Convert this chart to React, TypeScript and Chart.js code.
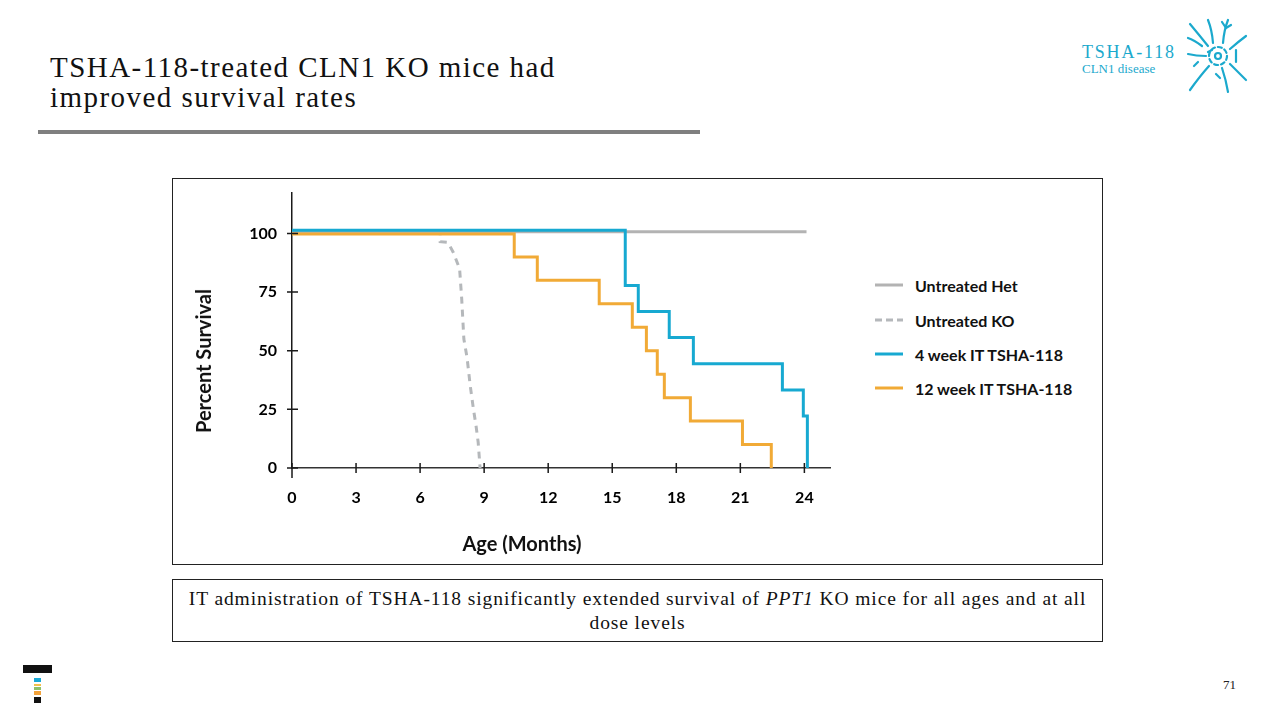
import React, { useEffect, useRef } from "react";
import { Chart, registerables } from "chart.js";

Chart.register(...registerables);

// ---- data ----
const xTickValues = [0, 3, 6, 9, 12, 15, 18, 21, 24];
const yTickValues = [0, 25, 50, 75, 100];

const hetMonths = [0, 24.1];
const hetSurvival = [100.7, 100.7];

const koMonths = [0, 6.94, 6.94, 7.3, 7.55, 7.85, 7.95, 8.05, 8.2, 8.35, 8.5, 8.62, 8.72, 8.81];
const koSurvival = [100, 100, 96.5, 96.2, 92, 85, 72, 55, 47, 35, 25, 18, 11, 0];

const wk4Months = [0, 15.61, 16.22, 17.67, 18.8, 22.97, 23.95, 24.14];
const wk4Survival = [101.3, 77.8, 66.7, 55.6, 44.4, 33.3, 22.2, 0];

const wk12Months = [0, 10.41, 11.49, 14.39, 15.94, 16.6, 17.11, 17.44, 18.66, 21.1, 22.45];
const wk12Survival = [99.7, 90, 80, 70, 60, 50, 40, 30, 20, 10, 0];

const seriesNames = ["Untreated Het", "Untreated KO", "4 week IT TSHA-118", "12 week IT TSHA-118"];
const seriesColors = ["#b3b3b3", "#b5b8bb", "#17a9d1", "#f1aa36"];

const pts = (xs: number[], ys: number[]) => xs.map((x, i) => ({ x, y: ys[i] }));

const SANS = "Lato, 'Noto Sans', sans-serif";
const SERIF = "'Liberation Serif', 'DejaVu Serif', serif";

const crossTicks = {
  id: "crossTicks",
  afterDraw(chart: any) {
    const { ctx, chartArea, scales } = chart;
    const xs = scales.x;
    const ys = scales.y;
    ctx.save();
    ctx.strokeStyle = "#1a1a1a";
    ctx.lineWidth = 1.5;
    ctx.beginPath();
    xTickValues.forEach((v) => {
      const px = xs.getPixelForValue(v);
      ctx.moveTo(px, chartArea.bottom - 5);
      ctx.lineTo(px, chartArea.bottom + 5);
    });
    yTickValues.forEach((v) => {
      const py = ys.getPixelForValue(v);
      ctx.moveTo(chartArea.left - 5, py);
      ctx.lineTo(chartArea.left + 6, py);
    });
    ctx.moveTo(chartArea.left, chartArea.bottom);
    ctx.lineTo(chartArea.left, chartArea.bottom + 10);
    ctx.stroke();
    ctx.restore();
  },
};

function SurvivalChart() {
  const ref = useRef<HTMLCanvasElement>(null);
  useEffect(() => {
    if (!ref.current) return;
    const chart = new Chart(ref.current, {
      type: "line",
      data: {
        datasets: [
          {
            label: seriesNames[2],
            data: pts(wk4Months, wk4Survival),
            borderColor: seriesColors[2],
            borderWidth: 3,
            stepped: "before",
            pointRadius: 0,
          },
          {
            label: seriesNames[3],
            data: pts(wk12Months, wk12Survival),
            borderColor: seriesColors[3],
            borderWidth: 3,
            stepped: "before",
            pointRadius: 0,
          },
          {
            label: seriesNames[0],
            data: pts(hetMonths, hetSurvival),
            borderColor: seriesColors[0],
            borderWidth: 3,
            pointRadius: 0,
          },
          {
            label: seriesNames[1],
            data: pts(koMonths, koSurvival),
            borderColor: seriesColors[1],
            borderWidth: 3,
            borderDash: [7, 6],
            pointRadius: 0,
          },
        ],
      },
      options: {
        animation: false,
        responsive: false,
        layout: { padding: { left: 0, right: 32, top: 2, bottom: 0 } },
        plugins: { legend: { display: false }, tooltip: { enabled: false } },
        scales: {
          x: {
            type: "linear",
            min: 0,
            max: 25.2,
            afterBuildTicks: (s: any) => {
              s.ticks = xTickValues.map((v) => ({ value: v }));
            },
            afterFit: (s: any) => {
              s.height = 95;
            },
            grid: { display: false, drawTicks: false },
            border: { display: true, color: "#333", width: 1.5 },
            ticks: {
              padding: 20,
              color: "#000",
              font: { family: SANS, size: 16, weight: "bold" },
              maxRotation: 0,
            },
          },
          y: {
            type: "linear",
            min: 0,
            max: 117.4,
            afterBuildTicks: (s: any) => {
              s.ticks = yTickValues.map((v) => ({ value: v }));
            },
            afterFit: (s: any) => {
              s.width = 120;
            },
            grid: { display: false, drawTicks: false },
            border: { display: true, color: "#1a1a1a", width: 1.5 },
            ticks: {
              padding: 15,
              color: "#000",
              font: { family: SANS, size: 16, weight: "bold" },
            },
          },
        },
      },
      plugins: [crossTicks],
    } as any);
    return () => chart.destroy();
  }, []);
  return <canvas ref={ref} width={690} height={395} style={{ width: 690, height: 395, display: "block" }} />;
}

function LegendItem({ i, top }: { i: number; top: number }) {
  return (
    <div style={{ position: "absolute", left: 875, top: top - 12, height: 24, display: "flex", alignItems: "center" }}>
      <svg width={28} height={6} style={{ display: "block" }}>
        <line
          x1={0}
          y1={3}
          x2={28}
          y2={3}
          stroke={seriesColors[i]}
          strokeWidth={3}
          strokeDasharray={i === 1 ? "7,4" : undefined}
        />
      </svg>
      <span
        style={{
          marginLeft: 12,
          fontFamily: SANS,
          fontWeight: 700,
          fontSize: 16,
          color: "#111",
          whiteSpace: "nowrap",
        }}
      >
        {seriesNames[i]}
      </span>
    </div>
  );
}

function NeuronIcon() {
  const c = "#1ba9cd";
  return (
    <svg width={70} height={80} viewBox="0 0 70 80" style={{ position: "absolute", left: 1182, top: 16 }}>
      <g fill="none" stroke={c} strokeWidth={2.2} strokeLinecap="round">
        <circle cx={36} cy={40} r={9} strokeDasharray="4,3" />
        <circle cx={36} cy={40} r={3} />
        <path d="M26 30 Q18 20 8 8" />
        <path d="M20 30 Q12 24 6 22" />
        <path d="M31 27 Q30 14 26 4" />
        <path d="M41 27 Q42 14 46 4" />
        <path d="M44 12 L40 6 M44 12 L49 9" />
        <path d="M48 33 Q56 26 64 20" />
        <path d="M54 34 L54 46" />
        <path d="M48 48 Q56 56 64 64" />
        <path d="M40 52 Q44 64 46 76" />
        <path d="M34 58 L38 62" />
        <path d="M27 50 Q18 60 8 74" />
        <path d="M24 40 Q14 40 6 38" />
        <path d="M16 46 L12 50" />
        <path d="M30 34 L26 36" />
      </g>
    </svg>
  );
}

export default function App() {
  return (
    <div
      style={{
        position: "absolute",
        left: 0,
        top: 0,
        width: 1280,
        height: 720,
        overflow: "hidden",
        background: "#fff",
      }}
    >
      {/* title */}
      <div
        style={{
          position: "absolute",
          left: 50,
          top: 52,
          fontFamily: SERIF,
          fontSize: 29,
          letterSpacing: 1.45,
          lineHeight: "30px",
          color: "#111",
          whiteSpace: "nowrap",
        }}
      >
        TSHA-118-treated CLN1 KO mice had
        <br />
        improved survival rates
      </div>
      <div style={{ position: "absolute", left: 38, top: 130, width: 662, height: 4, background: "#7f7f7f" }} />

      {/* top-right logo */}
      <div
        style={{
          position: "absolute",
          left: 1082,
          top: 42,
          fontFamily: SERIF,
          fontSize: 18,
          letterSpacing: 1.8,
          color: "#1ba9cd",
          whiteSpace: "nowrap",
          lineHeight: "20px",
        }}
      >
        TSHA-118
      </div>
      <div
        style={{
          position: "absolute",
          left: 1082,
          top: 61,
          fontFamily: SERIF,
          fontSize: 13,
          color: "#1ba9cd",
          whiteSpace: "nowrap",
          lineHeight: "16px",
        }}
      >
        CLN1 disease
      </div>
      <NeuronIcon />

      {/* chart box */}
      <div
        style={{
          position: "absolute",
          left: 172,
          top: 178,
          width: 929,
          height: 385,
          border: "1px solid #222",
        }}
      />
      <div style={{ position: "absolute", left: 172, top: 168 }}>
        <SurvivalChart />
      </div>
      <div
        style={{
          position: "absolute",
          left: 203,
          top: 361,
          transform: "translate(-50%, -50%) rotate(-90deg)",
          fontFamily: SANS,
          fontWeight: 700,
          fontSize: 20,
          color: "#111",
          whiteSpace: "nowrap",
        }}
      >
        Percent Survival
      </div>
      <div
        style={{
          position: "absolute",
          left: 522,
          top: 543,
          transform: "translate(-50%, -50%)",
          fontFamily: SANS,
          fontWeight: 700,
          fontSize: 20,
          color: "#111",
          whiteSpace: "nowrap",
        }}
      >
        Age (Months)
      </div>
      <LegendItem i={0} top={285} />
      <LegendItem i={1} top={320} />
      <LegendItem i={2} top={354} />
      <LegendItem i={3} top={388} />

      {/* bottom note */}
      <div
        style={{
          position: "absolute",
          left: 172,
          top: 579,
          width: 929,
          height: 61,
          border: "1px solid #222",
          display: "flex",
          alignItems: "center",
          justifyContent: "center",
          textAlign: "center",
          fontFamily: SERIF,
          fontSize: 19.5,
          letterSpacing: 0.9,
          lineHeight: "24px",
          color: "#111",
        }}
      >
        <div style={{ width: 905 }}>
          IT administration of TSHA-118 significantly extended survival of <i>PPT1</i> KO mice for all ages and at all
          dose levels
        </div>
      </div>

      {/* bottom-left logo */}
      <div style={{ position: "absolute", left: 23, top: 665, width: 29, height: 8, background: "#111" }} />
      <div style={{ position: "absolute", left: 34, top: 678, width: 7, height: 4, background: "#1ba9d6" }} />
      <div style={{ position: "absolute", left: 34, top: 684, width: 7, height: 2, background: "#f3c04a" }} />
      <div style={{ position: "absolute", left: 34, top: 687, width: 7, height: 3, background: "#8dc06a" }} />
      <div style={{ position: "absolute", left: 34, top: 691, width: 7, height: 4, background: "#f2a23a" }} />
      <div style={{ position: "absolute", left: 34, top: 697, width: 7, height: 6, background: "#111" }} />

      {/* page number */}
      <div
        style={{
          position: "absolute",
          left: 1223,
          top: 677,
          fontFamily: SERIF,
          fontSize: 13,
          color: "#222",
        }}
      >
        71
      </div>
    </div>
  );
}
